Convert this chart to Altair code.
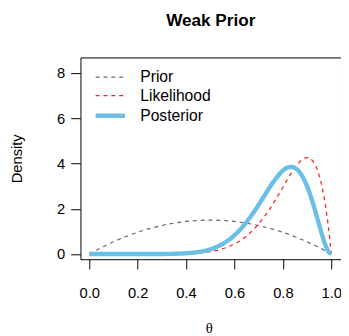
import altair as alt
import pandas as pd

theta = [0, 0.05, 0.1, 0.15, 0.2, 0.25, 0.3, 0.35, 0.4, 0.45, 0.5, 0.55, 0.6,
         0.625, 0.65, 0.675, 0.7, 0.725, 0.75, 0.775, 0.8, 0.825, 0.8375, 0.85,
         0.875, 0.9, 0.925, 0.9375, 0.95, 0.9625, 0.975, 0.9875, 1.0]
prior = [0, 0.285, 0.54, 0.765, 0.96, 1.125, 1.26, 1.365, 1.44, 1.485, 1.5, 1.485, 1.44,
         1.406, 1.365, 1.316, 1.26, 1.196, 1.125, 1.046, 0.96, 0.866, 0.817, 0.765,
         0.656, 0.54, 0.416, 0.352, 0.285, 0.217, 0.146, 0.074, 0]
likelihood = [0, 0, 0, 0, 0, 0, 0.0015, 0.0056, 0.0173, 0.0458, 0.107, 0.228, 0.443,
              0.600, 0.798, 1.040, 1.332, 1.674, 2.065, 2.496, 2.953, 3.409, 3.624, 3.821,
              4.134, 4.261, 4.090, 3.846, 3.466, 2.925, 2.190, 1.228, 0]
posterior = [0, 0, 0, 0, 0, 0.0005, 0.0025, 0.010, 0.0324, 0.0884, 0.2095, 0.440, 0.830,
             1.097, 1.415, 1.780, 2.181, 2.603, 3.020, 3.393, 3.685, 3.839, 3.847, 3.801,
             3.527, 2.992, 2.213, 1.758, 1.284, 0.823, 0.416, 0.118, 0]

series = ["Prior", "Likelihood", "Posterior"]
colors = ["#666666", "#ff2020", "#6bbfe6"]
dashes = [[4, 4], [4, 4], [1, 0]]
widths = [1.2, 1.3, 4.5]

rows = []
for name, vals in zip(series, [prior, likelihood, posterior]):
    for t, v in zip(theta, vals):
        rows.append({"theta": t, "density": v, "series": name})
df = pd.DataFrame(rows)

FONT = "Liberation Sans"

legend = alt.Legend(title=None, orient="none", legendX=18, legendY=9,
                    symbolType="M-1.5,0H1.5", symbolSize=400,
                    labelFontSize=16, labelFont=FONT, labelColor="black",
                    labelOffset=18, rowPadding=-2, padding=0)

base = alt.Chart(df).mark_line(interpolate="monotone", strokeCap="butt").encode(
    x=alt.X("theta:Q",
            scale=alt.Scale(domain=[-0.036, 1.04], nice=False, zero=False),
            axis=alt.Axis(values=[0, 0.2, 0.4, 0.6, 0.8, 1.0], format=".1f",
                          title="θ", titleFont="Liberation Serif", titleFontSize=15,
                          titleFontWeight="normal", titleX=131, titleY=70,
                          titleBaseline="middle", titleAlign="center",
                          labelPadding=17)),
    y=alt.Y("density:Q",
            scale=alt.Scale(domain=[-0.23, 8.69], nice=False, zero=False),
            axis=alt.Axis(values=[0, 2, 4, 6, 8], format="d", title="Density",
                          titleX=-65, titleY=103, titleAngle=-90,
                          titleBaseline="middle", titleAlign="center",
                          titleFontWeight="normal", titleFontSize=15,
                          labelPadding=6)),
    color=alt.Color("series:N", sort=series,
                    scale=alt.Scale(domain=series, range=colors), legend=legend),
    strokeDash=alt.StrokeDash("series:N", sort=series,
                              scale=alt.Scale(domain=series, range=dashes), legend=legend),
    strokeWidth=alt.StrokeWidth("series:N", sort=series,
                                scale=alt.Scale(type="ordinal", domain=series, range=widths),
                                legend=legend),
)

layers = [base.transform_filter(alt.datum.series == s) for s in series]

chart = alt.layer(*layers).properties(
    width=266, height=206,
    title=alt.Title("Weak Prior", fontSize=17.5, font=FONT, fontWeight="bold",
                    anchor="middle", offset=29, color="black"),
    autosize=alt.AutoSizeParams(type="none"),
    padding={"left": 74, "top": 47, "right": 0, "bottom": 80},
).configure_view(
    stroke="black", strokeWidth=1
).configure_axis(
    grid=False, domain=False, tickColor="black", tickSize=10, tickWidth=1,
    labelFont=FONT, labelFontSize=15, labelColor="black",
    titleFont=FONT, titleColor="black"
)

chart.save("out.html", embed_options={"renderer": "svg", "actions": False})
